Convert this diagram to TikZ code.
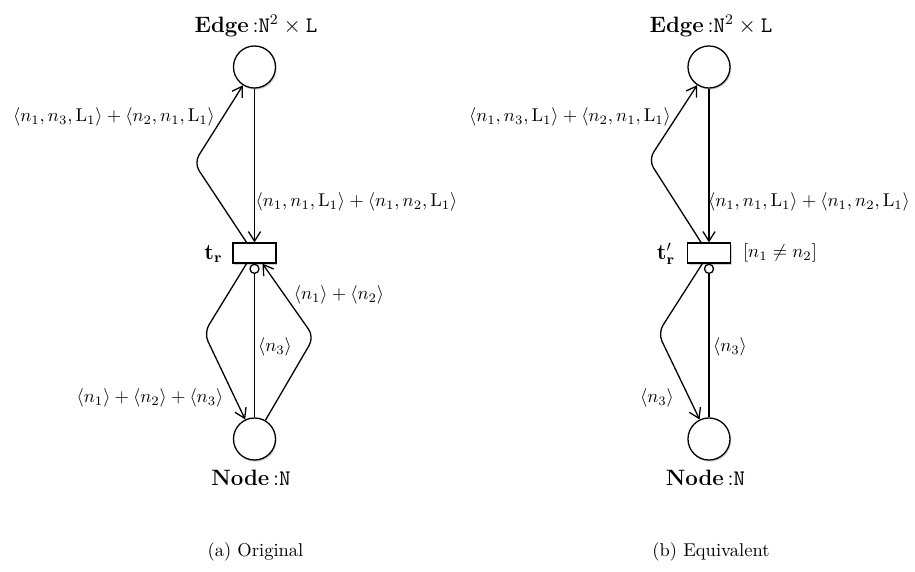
\documentclass[tikz,border=0pt]{standalone}
\usetikzlibrary{arrows.meta,shadows}
\begin{document}
\begin{tikzpicture}[x=0.54pt,y=-0.54pt,
  every node/.style={inner sep=1pt},
  shd/.style={drop shadow={shadow xshift=0.6pt,shadow yshift=-0.9pt,opacity=0.18,fill=black}},
  place/.style={draw,circle,line width=0.7pt,fill=white,minimum size=22.7pt,inner sep=0pt,shd},
  trans/.style={draw,rectangle,line width=0.7pt,fill=white,minimum width=23.2pt,minimum height=10.8pt,inner sep=0pt,shd},
  arc/.style={line width=0.7pt,-{Straight Barb[length=5.2pt,width=6.6pt]}},
  bent/.style={arc,rounded corners=5pt},
  inhib/.style={line width=0.7pt,-{Circle[open,length=5.6pt,fill=white]}},
  plabel/.style={font=\large},
  alabel/.style={font=\normalsize}]
\useasboundingbox (0,0) rectangle (915,572);

% ---------- (a) Original ----------
\node[place] (E1) at (254.5,67) {};
\node[trans] (T1) at (254.5,253) {};
\node[place] (N1) at (254.5,439) {};
\node[plabel] (E1lab) at (256,26) {$\mathbf{Edge}\,{:}\mathtt{N}^2\times\mathtt{L}$};
\node[plabel] (N1lab) at (251,478) {$\mathbf{Node}\,{:}\mathtt{N}$};
\node[plabel] (T1lab) at (213.5,254) {$\mathbf{t_r}$};
\coordinate (B1a) at (194,163);
\coordinate (B1b) at (204,333);
\coordinate (B1c) at (314,337);

\draw[arc] (E1) -- (T1);
\draw[bent] ([xshift=-4.3pt]T1.north) -- (B1a) -- (E1);
\draw[bent] ([xshift=-4.3pt]T1.south) -- (B1b) -- (N1);
\draw[bent] (N1) -- (B1c) -- ([xshift=4.3pt]T1.south);
\draw[inhib] (N1) -- (T1);

\node[alabel] (L1a) at (114,117) {$\langle n_1, n_3, \mathrm{L}_1\rangle + \langle n_2, n_1, \mathrm{L}_1\rangle$};
\node[alabel] (L1b) at (356.5,202) {$\langle n_1, n_1, \mathrm{L}_1\rangle + \langle n_1, n_2, \mathrm{L}_1\rangle$};
\node[alabel] (L1c) at (339,295) {$\langle n_1\rangle + \langle n_2\rangle$};
\node[alabel] (L1d) at (275,347) {$\langle n_3\rangle$};
\node[alabel] (L1e) at (150,398) {$\langle n_1\rangle + \langle n_2\rangle + \langle n_3\rangle$};
\node[alabel] (C1) at (255.5,552) {(a) Original};

% ---------- (b) Equivalent ----------
\node[place] (E2) at (709,67) {};
\node[trans] (T2) at (709,253) {};
\node[place] (N2) at (709,439) {};
\node[plabel] (E2lab) at (711,26) {$\mathbf{Edge}\,{:}\mathtt{N}^2\times\mathtt{L}$};
\node[plabel] (N2lab) at (705.5,478) {$\mathbf{Node}\,{:}\mathtt{N}$};
\node[plabel] (T2lab) at (666,254) {$\mathbf{t'_r}$};
\node[alabel] (G2) at (780,253) {$[n_1 \neq n_2]$};
\coordinate (B2a) at (648.5,160);
\coordinate (B2b) at (658,333);

\draw[arc] (E2) -- (T2);
\draw[bent] ([xshift=-4.3pt]T2.north) -- (B2a) -- (E2);
\draw[bent] ([xshift=-3.6pt]T2.south) -- (B2b) -- (N2);
\draw[inhib] (N2) -- (T2);

\node[alabel] (L2a) at (570,117) {$\langle n_1, n_3, \mathrm{L}_1\rangle + \langle n_2, n_1, \mathrm{L}_1\rangle$};
\node[alabel] (L2b) at (809,202) {$\langle n_1, n_1, \mathrm{L}_1\rangle + \langle n_1, n_2, \mathrm{L}_1\rangle$};
\node[alabel] (L2d) at (730,347) {$\langle n_3\rangle$};
\node[alabel] (L2e) at (657,398) {$\langle n_3\rangle$};
\node[alabel] (C2) at (711,552) {(b) Equivalent};
\end{tikzpicture}
\end{document}
